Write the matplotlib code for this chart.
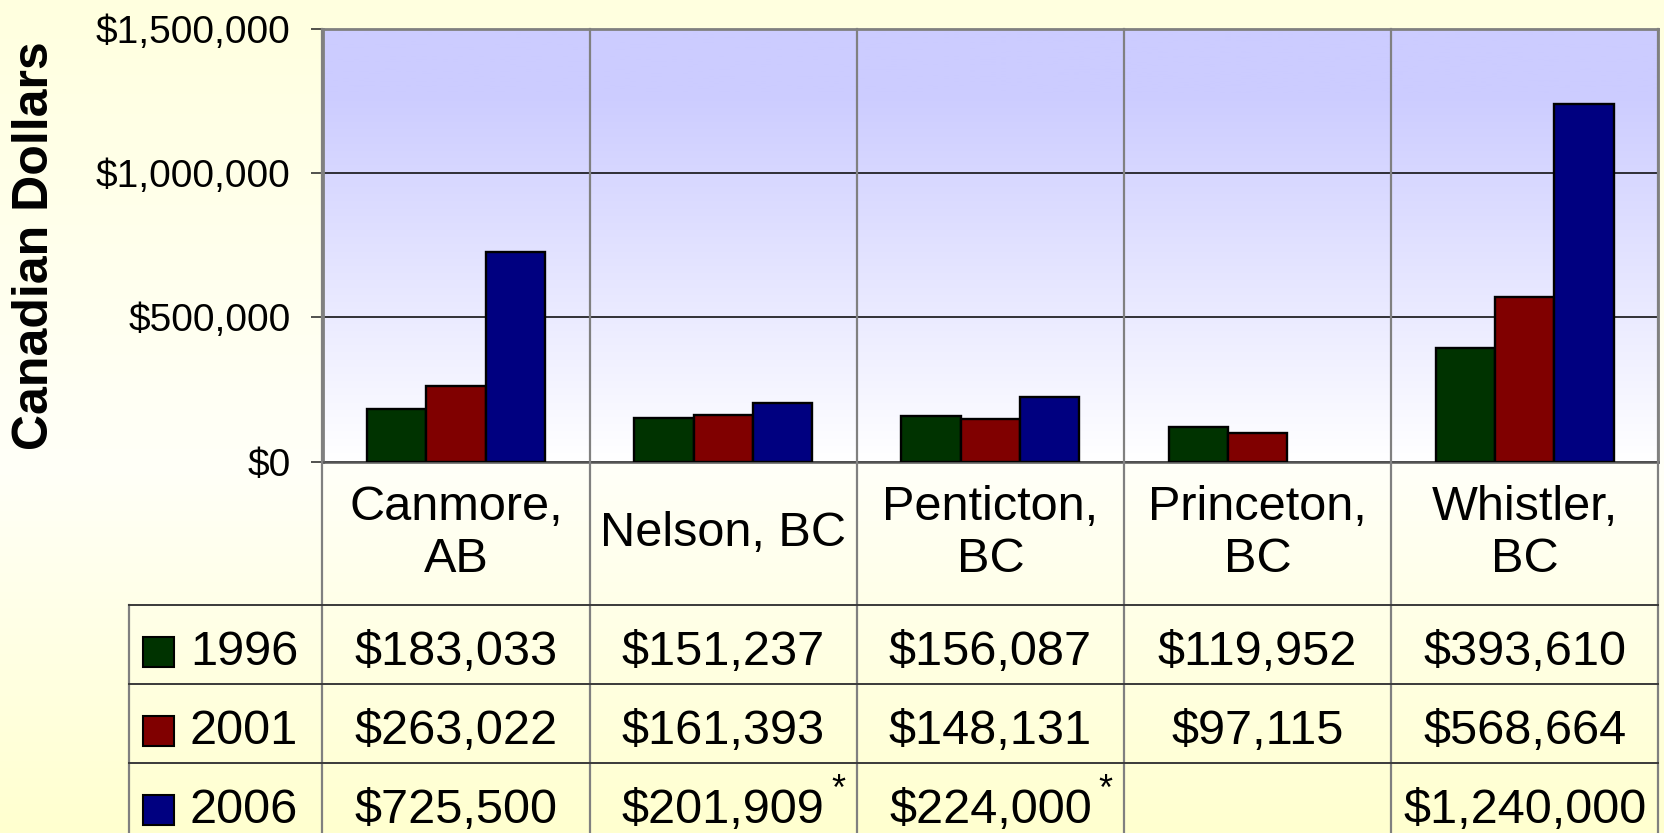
import matplotlib.pyplot as plt
import numpy as np
from matplotlib.colors import LinearSegmentedColormap
from matplotlib.patches import Rectangle

plt.rcParams['font.family'] = ['Liberation Sans', 'DejaVu Sans']

# data
cities = ['Canmore,\nAB', 'Nelson, BC', 'Penticton,\nBC', 'Princeton,\nBC', 'Whistler,\nBC']
years = ['1996', '2001', '2006']
prices_1996 = [183033, 151237, 156087, 119952, 393610]
prices_2001 = [263022, 161393, 148131, 97115, 568664]
prices_2006 = [725500, 201909, 224000, None, 1240000]
notes_2006 = ['', '*', '*', '', '']
bar_colors = ['#003300', '#800000', '#000080']
yticks = [0, 500000, 1000000, 1500000]

series = [prices_1996, prices_2001, prices_2006]
notes = [[''] * 5, [''] * 5, notes_2006]

# layout in pixels of the 1664x833 picture
W, H = 1664, 833
plot_l, plot_r, plot_t, plot_b = 322.5, 1658.4, 28.6, 461.5
tab_l, tab_b = 129.4, 842
row_lines = [605, 684, 763]
cat_w = (plot_r - plot_l) / len(cities)


def fx(px):
    return px / W


def fy(py):
    return 1 - py / H


fig = plt.figure(figsize=(W / 100, H / 100), dpi=100)

# figure background, pale yellow gradient
bg = fig.add_axes([0, 0, 1, 1], zorder=-10)
bg_cmap = LinearSegmentedColormap.from_list(
    'bg', [(0, '#ffffdf'), (0.56, '#fffff8'), (1, '#ffffcf')])
bg.imshow(np.linspace(0, 1, 256).reshape(-1, 1), cmap=bg_cmap, aspect='auto',
          extent=(0, 1, 0, 1), origin='upper')
bg.axis('off')

# bar chart
ax = fig.add_axes([fx(plot_l), fy(plot_b), (plot_r - plot_l) / W, (plot_b - plot_t) / H])
plot_cmap = LinearSegmentedColormap.from_list(
    'plot', [(0, '#ccccff'), (0.15, '#ccccff'), (1, '#ffffff')])
ax.imshow(np.linspace(0, 1, 256).reshape(-1, 1), cmap=plot_cmap, aspect='auto',
          extent=(-0.5, len(cities) - 0.5, 0, 1500000), origin='upper', zorder=0)

x = np.arange(len(cities))
bw = 0.222
for k, vals in enumerate(series):
    idx = [i for i, v in enumerate(vals) if v is not None]
    ax.bar(x[idx] + (k - 1) * bw, [vals[i] for i in idx], width=bw,
           color=bar_colors[k], edgecolor='black', linewidth=1.7, zorder=3)

ax.set_xlim(-0.5, len(cities) - 0.5)
ax.set_ylim(0, 1500000)
ax.set_yticks(yticks)
ax.set_yticklabels(['${:,.0f}'.format(v) for v in yticks], fontsize=28)
ax.set_xticks([])
ax.tick_params(axis='y', length=9, width=1.2, pad=14, color='#333333')
ax.yaxis.grid(True, color='black', linewidth=1.1)
ax.set_axisbelow(True)
for s in ['top', 'left', 'right']:
    ax.spines[s].set_color('#808080')
    ax.spines[s].set_linewidth(2)
ax.spines['bottom'].set_color('#555555')
ax.spines['bottom'].set_linewidth(1.8)

fig.text(fx(35), fy(246), 'Canadian Dollars', rotation=90, fontsize=36,
         fontweight='bold', ha='center', va='center')

# category labels and data table
tab = fig.add_axes([fx(tab_l), fy(tab_b), (plot_r - tab_l) / W, (tab_b - plot_t) / H])
tab.patch.set_visible(False)
tab.axis('off')
left_x = -0.5 - (plot_l - tab_l) / cat_w
tab.set_xlim(left_x, len(cities) - 0.5)
tab.set_ylim(tab_b, plot_t)

for i in range(len(cities) + 1):
    tab.plot([i - 0.5, i - 0.5], [plot_t, tab_b], color='#808080', lw=1.6,
             clip_on=False, zorder=1)
tab.plot([left_x, left_x], [row_lines[0], tab_b], color='#808080', lw=1.6, clip_on=False)
for yl in row_lines:
    tab.plot([left_x, len(cities) - 0.5], [yl, yl], color='#3a3a3a', lw=1.4, clip_on=False)

label_y = (plot_b + row_lines[0]) / 2
for i, c in enumerate(cities):
    tab.text(i, label_y, c, fontsize=35, ha='center', va='center', linespacing=1.2)

row_centers = [(row_lines[0] + row_lines[1]) / 2, (row_lines[1] + row_lines[2]) / 2,
               (row_lines[2] + tab_b) / 2]
sq_l = left_x + (143 - tab_l) / cat_w
sq_w = 31 / cat_w
txt_x = left_x + (190 - tab_l) / cat_w
for k, yr in enumerate(years):
    yc = row_centers[k] + 8
    tab.add_patch(Rectangle((sq_l, yc - 15), sq_w, 30, facecolor=bar_colors[k],
                            edgecolor='black', linewidth=1.5, clip_on=False))
    tab.text(txt_x, yc, yr, fontsize=35, ha='left', va='center')
    for i, v in enumerate(series[k]):
        if v is None:
            continue
        t = tab.text(i, yc, '${:,.0f}'.format(v), fontsize=35, ha='center', va='center')
        if notes[k][i]:
            tab.annotate(notes[k][i], xy=(1, 1), xycoords=t, xytext=(5, 11),
                         textcoords='offset points', fontsize=26, ha='left', va='top')

fig.savefig('out.png', dpi=100)
